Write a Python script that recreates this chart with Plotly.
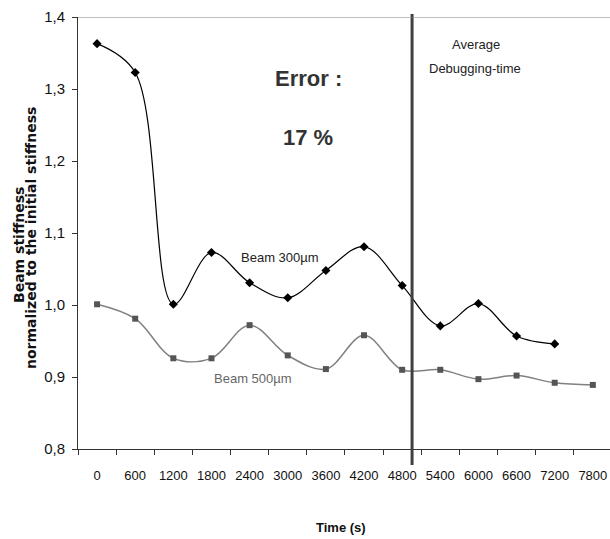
import plotly.graph_objects as go

categories = ["0", "600", "1200", "1800", "2400", "3000", "3600", "4200",
              "4800", "5400", "6000", "6600", "7200", "7800"]
beam300_x = ["0", "600", "1200", "1800", "2400", "3000", "3600", "4200",
             "4800", "5400", "6000", "6600", "7200"]
beam300_y = [1.363, 1.323, 1.001, 1.073, 1.031, 1.010, 1.048, 1.081,
             1.027, 0.971, 1.002, 0.957, 0.946]
beam500_x = categories
beam500_y = [1.001, 0.981, 0.926, 0.926, 0.972, 0.930, 0.911, 0.958,
             0.910, 0.910, 0.897, 0.902, 0.892, 0.889]
y_ticks = [0.8, 0.9, 1.0, 1.1, 1.2, 1.3, 1.4]
debug_time_pos = 8.26  # category index position of average debugging time

FONT = "Liberation Sans, Arial, sans-serif"
TITLE_FONT = "DejaVu Sans, Liberation Sans, Arial, sans-serif"
W, H = 610, 539
ML, MR, MT, MB = 78, 0, 17, 90
PW, PH = W - ML - MR, H - MT - MB

fig = go.Figure()
fig.add_trace(go.Scatter(
    x=beam500_x, y=beam500_y, mode="lines+markers",
    line=dict(color="#808080", width=1.5, shape="spline", smoothing=1),
    marker=dict(symbol="square", size=6, color="#555555"),
    showlegend=False, cliponaxis=False))
fig.add_trace(go.Scatter(
    x=beam300_x, y=beam300_y, mode="lines+markers",
    line=dict(color="#000000", width=1.2, shape="spline", smoothing=1),
    marker=dict(symbol="diamond", size=7, color="#000000"),
    showlegend=False, cliponaxis=False))

# vertical line for average debugging time
fig.add_shape(type="line", xref="x", yref="paper",
              x0=debug_time_pos, x1=debug_time_pos, y0=-16 / PH, y1=1 + 3 / PH,
              line=dict(color="#404040", width=3))
# top border line
fig.add_shape(type="line", xref="paper", yref="y", x0=0, x1=1, y0=1.4, y1=1.4,
              line=dict(color="#808080", width=1))

annotations = [
    dict(text="<b>Error :</b>", x=308, y=78, size=22, color="#333333", fam=FONT, ang=0),
    dict(text="<b>17 %</b>", x=308, y=137, size=22, color="#333333", fam=FONT, ang=0),
    dict(text="Average", x=476, y=45, size=13, color="#222222", fam=FONT, ang=0),
    dict(text="Debugging-time", x=475, y=68, size=13, color="#222222", fam=FONT, ang=0),
    dict(text="Beam 300µm", x=280, y=257, size=13, color="#222222", fam=FONT, ang=0),
    dict(text="Beam 500µm", x=253, y=378, size=13, color="#666666", fam=FONT, ang=0),
    dict(text="<b>Time (s)</b>", x=341, y=527, size=13, color="#111111", fam=FONT, ang=0),
    dict(text="<b>Beam stiffness</b>", x=19, y=245, size=14, color="#111111",
         fam=TITLE_FONT, ang=-90),
    dict(text="<b>normalized to the initial stiffness</b>", x=31, y=238, size=14,
         color="#111111", fam=TITLE_FONT, ang=-90),
]
for a in annotations:
    fig.add_annotation(x=(a["x"] - ML) / PW, y=1 - (a["y"] - MT) / PH,
                       xref="paper", yref="paper", textangle=a["ang"],
                       xanchor="center", yanchor="middle", showarrow=False,
                       text=a["text"],
                       font=dict(family=a["fam"], size=a["size"], color=a["color"]))

fig.update_layout(
    width=W, height=H, separators=",.",
    margin=dict(l=ML, r=MR, t=MT, b=MB, autoexpand=False),
    paper_bgcolor="white", plot_bgcolor="white",
    font=dict(family=FONT, size=14, color="#111111"),
)

fig.update_xaxes(
    type="category", categoryorder="array", categoryarray=categories,
    range=[-0.5, 13.45], tickson="boundaries", ticks="outside", ticklen=5,
    tickcolor="#333333", showline=True, linecolor="#333333", linewidth=1,
    showgrid=False, zeroline=False, tickangle=0, ticklabelstandoff=14,
    tickfont=dict(size=13))
fig.update_yaxes(
    range=[0.8, 1.4], tickvals=y_ticks, tickformat=".1f", ticks="outside",
    ticklen=5, tickcolor="#333333", showline=True, linecolor="#333333",
    linewidth=1, showgrid=False, zeroline=False, tickfont=dict(size=15),
    ticklabelstandoff=4)

fig.write_html("out.html", config={"displayModeBar": False},
               post_script="document.body.style.margin='0';"
                           "document.body.style.overflow='hidden';")
